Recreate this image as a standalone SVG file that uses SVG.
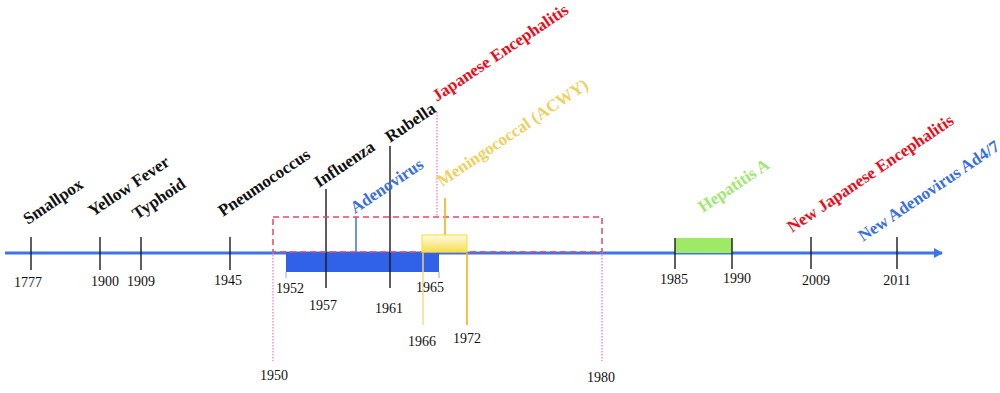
<svg xmlns="http://www.w3.org/2000/svg" width="1000" height="393" viewBox="0 0 1000 393">
<style>
.lab{font-family:"Liberation Serif","Times New Roman",serif;font-size:17px;font-weight:bold;}
.yr{font-family:"Liberation Serif","Times New Roman",serif;font-size:14px;fill:#111;text-anchor:middle;}
.tk{stroke:#1a1a1a;stroke-width:1.4;}
.dot{stroke:#f080c0;stroke-width:1.3;stroke-dasharray:1.5,1.5;fill:none;}
</style>
<defs>
<linearGradient id="yg" x1="0" y1="0" x2="0" y2="1">
<stop offset="0" stop-color="#fffbe4"/>
<stop offset="1" stop-color="#f6dc50"/>
</linearGradient>
<marker id="ah" markerWidth="10" markerHeight="10" refX="8" refY="5" orient="auto" markerUnits="userSpaceOnUse">
<path d="M0,0 L9,5 L0,10 z" fill="#3d74e8"/>
</marker>
</defs>
<rect width="1000" height="393" fill="#ffffff"/>
<g id="connectors">
<line x1="5" y1="253" x2="942" y2="253" stroke="#3d74e8" stroke-width="3" marker-end="url(#ah)"/>
<rect x="286" y="252" width="153" height="20" fill="#2f62e8"/>
<rect x="675" y="238" width="57" height="15" fill="#9eea66"/>
<line class="tk" x1="31" y1="237" x2="31" y2="270"/>
<line class="tk" x1="100" y1="237" x2="100" y2="270"/>
<line class="tk" x1="141" y1="237" x2="141" y2="270"/>
<line class="tk" x1="230" y1="237" x2="230" y2="270"/>
<line class="tk" x1="326" y1="189" x2="326" y2="288"/>
<line class="tk" x1="390" y1="146" x2="390" y2="288"/>
<line x1="356" y1="217" x2="356" y2="253" stroke="#3b6fe0" stroke-width="1.5"/>
<line x1="286" y1="272" x2="286" y2="278" stroke="#a0b8f0" stroke-width="1.2"/>
<line x1="439" y1="272" x2="439" y2="278" stroke="#a0b8f0" stroke-width="1.2"/>
<line class="tk" x1="675" y1="238" x2="675" y2="269"/>
<line class="tk" x1="732" y1="238" x2="732" y2="269"/>
<line class="tk" x1="811" y1="237" x2="811" y2="269"/>
<line class="tk" x1="897" y1="237" x2="897" y2="269"/>
<line class="dot" x1="273" y1="252" x2="273" y2="361"/>
<line class="dot" x1="602" y1="252" x2="602" y2="361"/>
<line class="dot" x1="437" y1="112" x2="437" y2="217"/>
<rect x="273" y="217" width="329" height="35" fill="none" stroke="#e8446a" stroke-width="1.5" stroke-dasharray="6,4"/>
<line x1="445" y1="198" x2="445" y2="235" stroke="#f5b015" stroke-width="1.6"/>
<rect x="422" y="235" width="45" height="17" fill="url(#yg)" stroke="#f4e840" stroke-width="1.2"/>
<line x1="423" y1="253" x2="423" y2="325" stroke="#f6d878" stroke-width="1.4"/>
<line x1="467" y1="253" x2="467" y2="325" stroke="#f5b015" stroke-width="1.6"/>
</g>
<g id="labels">
<text class="lab" fill="#111" transform="translate(28,225) rotate(-34)">Smallpox</text>
<text class="lab" fill="#111" transform="translate(93,217) rotate(-34)">Yellow Fever</text>
<text class="lab" fill="#111" transform="translate(137,220) rotate(-34)">Typhoid</text>
<text class="lab" fill="#111" transform="translate(223,217) rotate(-34)">Pneumococcus</text>
<text class="lab" fill="#111" transform="translate(319,188) rotate(-34)">Influenza</text>
<text class="lab" fill="#3b6fe0" transform="translate(355,214) rotate(-34)">Adenovirus</text>
<text class="lab" fill="#111" transform="translate(390,143) rotate(-34)">Rubella</text>
<text class="lab" fill="#e8101e" transform="translate(437,102) rotate(-34)">Japanese Encephalitis</text>
<text class="lab" fill="#f0d060" font-weight="normal" transform="translate(442,187) rotate(-34)">Meningococcal (ACWY)</text>
<text class="lab" fill="#a0e870" transform="translate(703,213) rotate(-34)">Hepatitis A</text>
<text class="lab" fill="#e8101e" transform="translate(792,233) rotate(-34)">New Japanese Encephalitis</text>
<text class="lab" fill="#3b6fe0" transform="translate(863,242) rotate(-34)">New Adenovirus Ad4/7</text>
</g>
<g id="years">
<text class="yr" x="28" y="287">1777</text>
<text class="yr" x="105" y="286">1900</text>
<text class="yr" x="141" y="286">1909</text>
<text class="yr" x="228" y="285">1945</text>
<text class="yr" x="290" y="293">1952</text>
<text class="yr" x="323" y="310">1957</text>
<text class="yr" x="389" y="313">1961</text>
<text class="yr" x="430" y="292">1965</text>
<text class="yr" x="422" y="346">1966</text>
<text class="yr" x="467" y="343">1972</text>
<text class="yr" x="274" y="380">1950</text>
<text class="yr" x="601" y="382">1980</text>
<text class="yr" x="674" y="284">1985</text>
<text class="yr" x="737" y="283">1990</text>
<text class="yr" x="816" y="285">2009</text>
<text class="yr" x="897" y="285">2011</text>
</g>
</svg>
